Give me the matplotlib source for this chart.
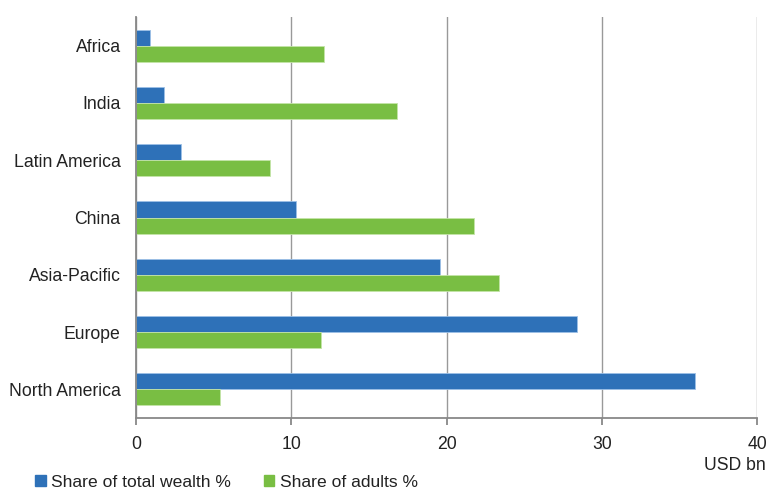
import matplotlib.pyplot as plt
from matplotlib.patches import Patch

plt.rcParams['font.family'] = ['Liberation Sans', 'DejaVu Sans']

# Регионы и значения (сверху вниз)
regions = ['Africa', 'India', 'Latin America', 'China', 'Asia-Pacific', 'Europe', 'North America']
wealth_share = [0.9, 1.8, 2.9, 10.3, 19.6, 28.4, 36.0]
adults_share = [12.1, 16.8, 8.6, 21.8, 23.4, 11.9, 5.4]
x_ticks = [0, 10, 20, 30, 40]

blue = '#2E71B8'
green = '#79BE43'

fig = plt.figure(figsize=(7.69, 4.9), dpi=100)
ax = fig.add_axes([136 / 769, 1 - 418 / 490, 621 / 769, 401 / 490])

pos = list(range(len(regions)))
h = 0.28
ax.barh([p - h / 2 for p in pos], wealth_share, height=h, color=blue,
        edgecolor='#9cc0e6', linewidth=0.6, zorder=3)
ax.barh([p + h / 2 for p in pos], adults_share, height=h, color=green,
        edgecolor='#c4e4a8', linewidth=0.6, zorder=3)

ax.set_ylim(len(regions) - 0.5, -0.5)
ax.set_yticks(pos)
ax.set_yticklabels(regions)
ax.set_xlim(0, 40)
ax.set_xticks(x_ticks)

ax.grid(axis='x', color='#999999', linewidth=1.0, zorder=0)
for s in ['top', 'right']:
    ax.spines[s].set_visible(False)
ax.spines['left'].set_color('#888888')
ax.spines['left'].set_linewidth(1.3)
ax.spines['left'].set_zorder(4)
ax.spines['bottom'].set_color('#888888')
ax.spines['bottom'].set_linewidth(1.3)

ax.tick_params(axis='y', length=0, pad=11, labelsize=12.7, labelcolor='#222222')
ax.tick_params(axis='x', length=5, width=1.3, color='#888888', pad=8,
               labelsize=12.7, labelcolor='#222222')

fig.text(766 / 769, 1 - 465 / 490, 'USD bn', ha='right', va='center',
         fontsize=12.7, color='#222222')

handles = [Patch(color=blue), Patch(color=green)]
fig.legend(handles, ['Share of total wealth %', 'Share of adults %'],
           loc='center left', bbox_to_anchor=(35 / 769, 1 - 482 / 490),
           ncol=2, frameon=False, fontsize=12.6, handlelength=0.6,
           handleheight=0.6, handletextpad=0.3, columnspacing=1.9,
           borderpad=0, borderaxespad=0, labelcolor='#222222')

fig.savefig('out.png', dpi=100)
